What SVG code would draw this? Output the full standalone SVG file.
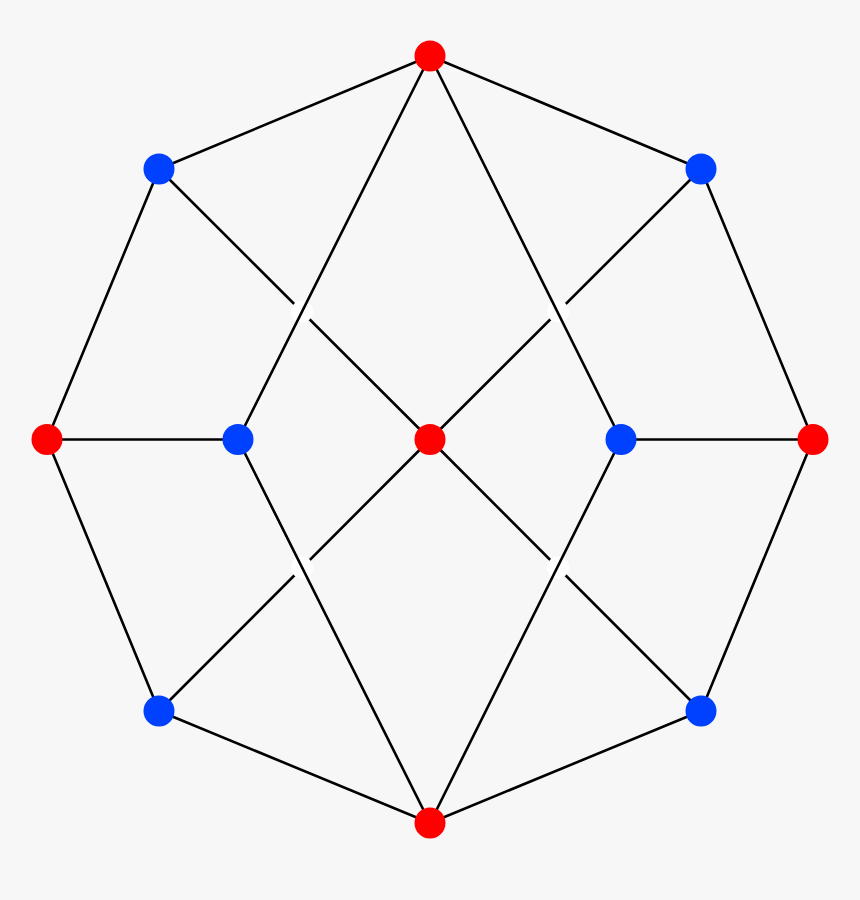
<svg xmlns="http://www.w3.org/2000/svg" width="860" height="900" viewBox="0 0 860 900">
<style>
.e{stroke:#000;stroke-width:2.6;fill:none;stroke-linecap:round}
.gap{fill:#fff}
.r{fill:#ff0000}
.b{fill:#0040ff}
</style>
<rect width="860" height="900" fill="#f7f7f7"/>
<g id="connectors">
<line class="e" x1="430" y1="56" x2="701" y2="169"/>
<line class="e" x1="701" y1="169" x2="813" y2="439.5"/>
<line class="e" x1="813" y1="439.5" x2="701" y2="711"/>
<line class="e" x1="701" y1="711" x2="430" y2="823"/>
<line class="e" x1="430" y1="823" x2="159" y2="711"/>
<line class="e" x1="159" y1="711" x2="47" y2="439.5"/>
<line class="e" x1="47" y1="439.5" x2="159" y2="169"/>
<line class="e" x1="159" y1="169" x2="430" y2="56"/>
<line class="e" x1="47" y1="439.5" x2="238" y2="439.5"/>
<line class="e" x1="621" y1="439.5" x2="813" y2="439.5"/>
<line class="e" x1="159" y1="169" x2="430" y2="439.5"/>
<line class="e" x1="701" y1="169" x2="430" y2="439.5"/>
<line class="e" x1="159" y1="711" x2="430" y2="439.5"/>
<line class="e" x1="701" y1="711" x2="430" y2="439.5"/>
<circle class="gap" cx="302" cy="311.5" r="11"/>
<circle class="gap" cx="558" cy="311.5" r="11"/>
<circle class="gap" cx="302" cy="567.5" r="11"/>
<circle class="gap" cx="558" cy="567.5" r="11"/>
<line class="e" x1="430" y1="56" x2="238" y2="439.5"/>
<line class="e" x1="430" y1="56" x2="621" y2="439.5"/>
<line class="e" x1="430" y1="823" x2="238" y2="439.5"/>
<line class="e" x1="430" y1="823" x2="621" y2="439.5"/>
</g>
<g id="n-top"><circle class="r" cx="430" cy="56" r="15.5"/></g>
<g id="n-ul"><circle class="b" cx="159" cy="169" r="15.5"/></g>
<g id="n-ur"><circle class="b" cx="701" cy="169" r="15.5"/></g>
<g id="n-left"><circle class="r" cx="47" cy="439.5" r="15.5"/></g>
<g id="n-il"><circle class="b" cx="238" cy="439.5" r="15.5"/></g>
<g id="n-center"><circle class="r" cx="430" cy="439.5" r="15.5"/></g>
<g id="n-ir"><circle class="b" cx="621" cy="439.5" r="15.5"/></g>
<g id="n-right"><circle class="r" cx="813" cy="439.5" r="15.5"/></g>
<g id="n-ll"><circle class="b" cx="159" cy="711" r="15.5"/></g>
<g id="n-lr"><circle class="b" cx="701" cy="711" r="15.5"/></g>
<g id="n-bottom"><circle class="r" cx="430" cy="823" r="15.5"/></g>
</svg>
